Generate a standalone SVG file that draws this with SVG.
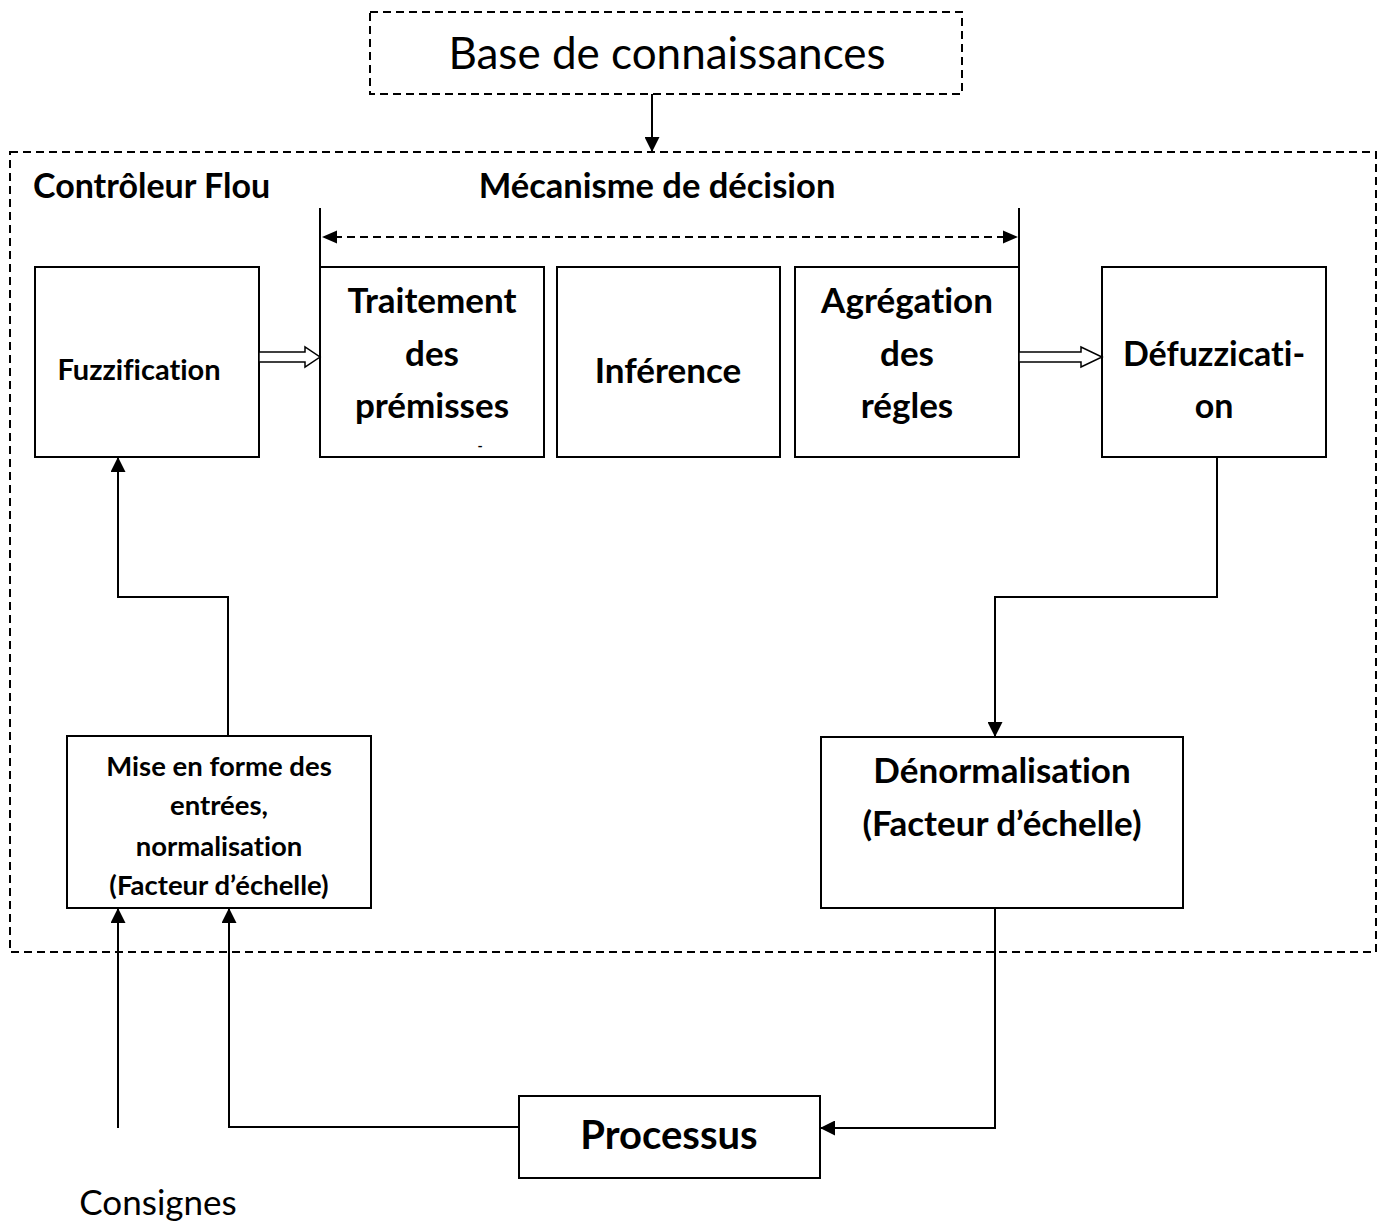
<svg xmlns="http://www.w3.org/2000/svg" width="1383" height="1222" viewBox="0 0 1383 1222">
<style>
.box{fill:#fff;stroke:#000;stroke-width:2}
.dash{fill:none;stroke:#000;stroke-width:2;stroke-dasharray:8 5}
.ln{fill:none;stroke:#000;stroke-width:2}
.b{font-family:Lato,"Liberation Sans",sans-serif;font-weight:bold;fill:#000;text-anchor:middle;font-variant-ligatures:none}
.r{font-family:Lato,"Liberation Sans",sans-serif;fill:#000;text-anchor:middle;font-variant-ligatures:none}
.hollow{fill:#fff;stroke:#000;stroke-width:1.5}
</style>
<defs>
<marker id="ah" markerWidth="15" markerHeight="15" refX="15" refY="7.5" orient="auto" markerUnits="userSpaceOnUse">
<path d="M0,0 L15,7.5 L0,15 Z" fill="#000"/>
</marker>
</defs>
<rect width="1383" height="1222" fill="#fff"/>

<g id="base-connaissances">
<rect class="dash" x="370" y="12" width="592" height="82"/>
<text class="r" x="667" y="69" font-size="44">Base de connaissances</text>
</g>

<g id="controleur-flou">
<rect class="dash" x="10" y="152" width="1366" height="800"/>
<text class="b" x="33" y="198" font-size="34" style="text-anchor:start">Contrôleur Flou</text>
</g>

<g id="mecanisme">
<text class="b" x="657" y="198" font-size="34.5">Mécanisme de décision</text>
<line class="ln" x1="320" y1="208" x2="320" y2="268"/>
<line class="ln" x1="1019" y1="208" x2="1019" y2="268"/>
</g>

<g id="fuzzification">
<rect class="box" x="35" y="267" width="224" height="190"/>
<text class="b" x="139" y="380" font-size="29">Fuzzification</text>
</g>

<g id="traitement">
<rect class="box" x="320" y="267" width="224" height="190"/>
<text class="b" x="432" y="313" font-size="35">Traitement</text>
<text class="b" x="432" y="366" font-size="35">des</text>
<text class="b" x="432" y="418" font-size="35">prémisses</text>
<text class="b" x="480" y="451" font-size="14">-</text>
</g>

<g id="inference">
<rect class="box" x="557" y="267" width="223" height="190"/>
<text class="b" x="668" y="383" font-size="35">Inférence</text>
</g>

<g id="agregation">
<rect class="box" x="795" y="267" width="224" height="190"/>
<text class="b" x="907" y="313" font-size="35">Agrégation</text>
<text class="b" x="907" y="366" font-size="35">des</text>
<text class="b" x="907" y="418" font-size="35">régles</text>
</g>

<g id="defuzzification">
<rect class="box" x="1102" y="267" width="224" height="190"/>
<text class="b" x="1214" y="366" font-size="34">Défuzzicati-</text>
<text class="b" x="1214" y="418" font-size="34">on</text>
</g>

<g id="mise-en-forme">
<rect class="box" x="67" y="736" width="304" height="172"/>
<text class="b" x="219" y="776" font-size="27.5">Mise en forme des</text>
<text class="b" x="219" y="815" font-size="27.5">entrées,</text>
<text class="b" x="219" y="856" font-size="27.5">normalisation</text>
<text class="b" x="219" y="895" font-size="27.5">(Facteur d’échelle)</text>
</g>

<g id="denormalisation">
<rect class="box" x="821" y="737" width="362" height="171"/>
<text class="b" x="1002" y="783" font-size="35">Dénormalisation</text>
<text class="b" x="1002" y="836" font-size="35">(Facteur d’échelle)</text>
</g>

<g id="processus">
<rect class="box" x="519" y="1096" width="301" height="82"/>
<text class="b" x="669" y="1149" font-size="40">Processus</text>
</g>

<g id="consignes">
<text class="r" x="158" y="1215" font-size="35">Consignes</text>
</g>

<g id="connectors">
<line class="ln" x1="652" y1="94" x2="652" y2="152" marker-end="url(#ah)"/>
<line class="dash" x1="334" y1="237" x2="1005" y2="237"/>
<path d="M322,237 L337,230.5 L337,243.5 Z" fill="#000"/>
<path d="M1018,237 L1003,230.5 L1003,243.5 Z" fill="#000"/>
<path class="hollow" d="M259,352 L305,352 L305,347 L320,357 L305,367 L305,362 L259,362 Z"/>
<path class="hollow" d="M1019,352 L1081,352 L1081,347 L1102,357 L1081,367 L1081,362 L1019,362 Z"/>
<polyline class="ln" points="1217,457 1217,597 995,597 995,737" marker-end="url(#ah)"/>
<polyline class="ln" points="228,736 228,597 118,597 118,457" marker-end="url(#ah)"/>
<line class="ln" x1="118" y1="1128" x2="118" y2="908" marker-end="url(#ah)"/>
<polyline class="ln" points="519,1127 229,1127 229,908" marker-end="url(#ah)"/>
<polyline class="ln" points="995,908 995,1128 820,1128" marker-end="url(#ah)"/>
</g>
</svg>
